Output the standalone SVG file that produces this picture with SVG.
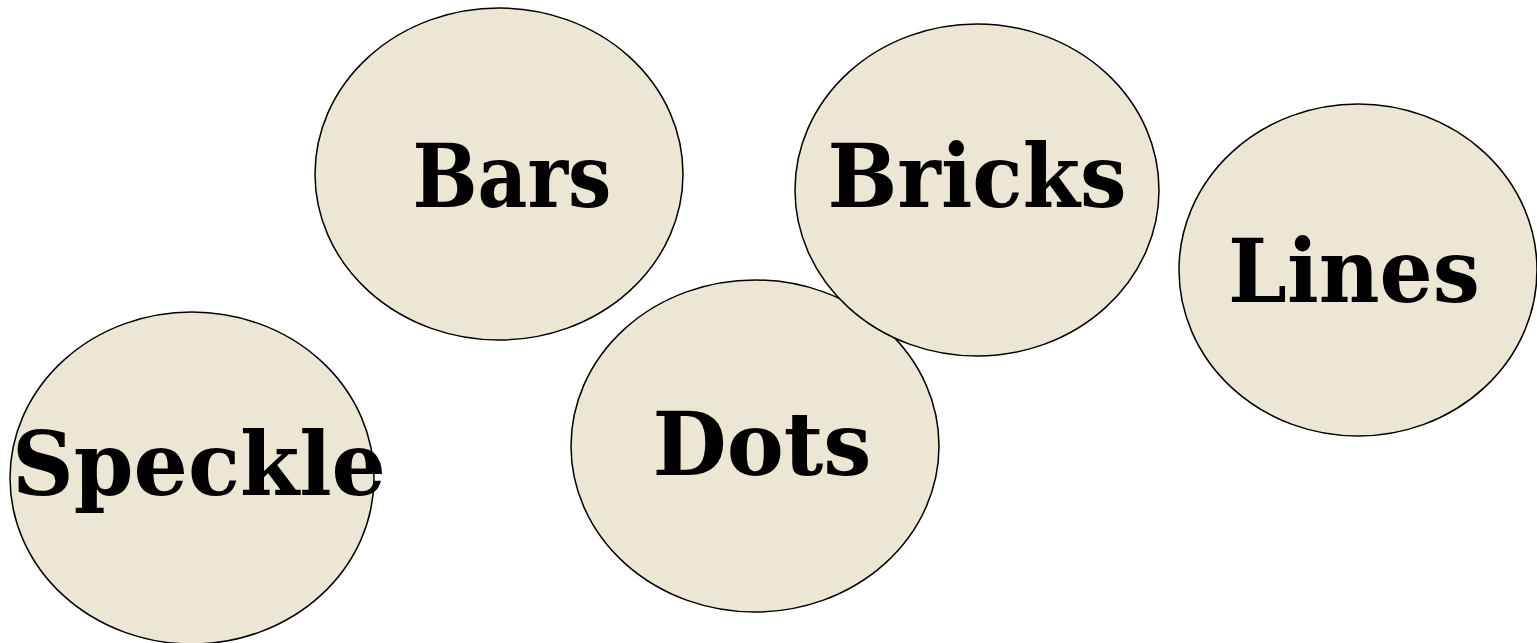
<svg xmlns="http://www.w3.org/2000/svg" width="1537" height="643" viewBox="0 0 1537 643">
<style>
.n{fill:#ECE6D5;stroke:#000;stroke-width:1.5}
.t{font-family:"DejaVu Serif","Liberation Serif",serif;font-size:88px;font-weight:bold;fill:#000;text-anchor:middle}
</style>
<rect width="1537" height="643" fill="#fff"/>
<g id="connectors"></g>
<g id="bars"><ellipse class="n" cx="499" cy="174" rx="184" ry="166"/><text class="t" x="512" y="207" textLength="199" lengthAdjust="spacingAndGlyphs">Bars</text></g>
<g id="dots"><ellipse class="n" cx="755" cy="446" rx="184" ry="166"/><text class="t" x="762" y="475" textLength="219" lengthAdjust="spacingAndGlyphs">Dots</text></g>
<g id="bricks"><ellipse class="n" cx="977" cy="190" rx="182" ry="166"/><text class="t" x="977" y="207" textLength="299" lengthAdjust="spacingAndGlyphs">Bricks</text></g>
<g id="lines"><ellipse class="n" cx="1358" cy="270" rx="179" ry="166"/><text class="t" x="1354" y="302" textLength="252" lengthAdjust="spacingAndGlyphs">Lines</text></g>
<g id="speckle"><ellipse class="n" cx="192" cy="478" rx="182" ry="166"/><text class="t" x="199" y="495" textLength="374" lengthAdjust="spacingAndGlyphs">Speckle</text></g>
</svg>
